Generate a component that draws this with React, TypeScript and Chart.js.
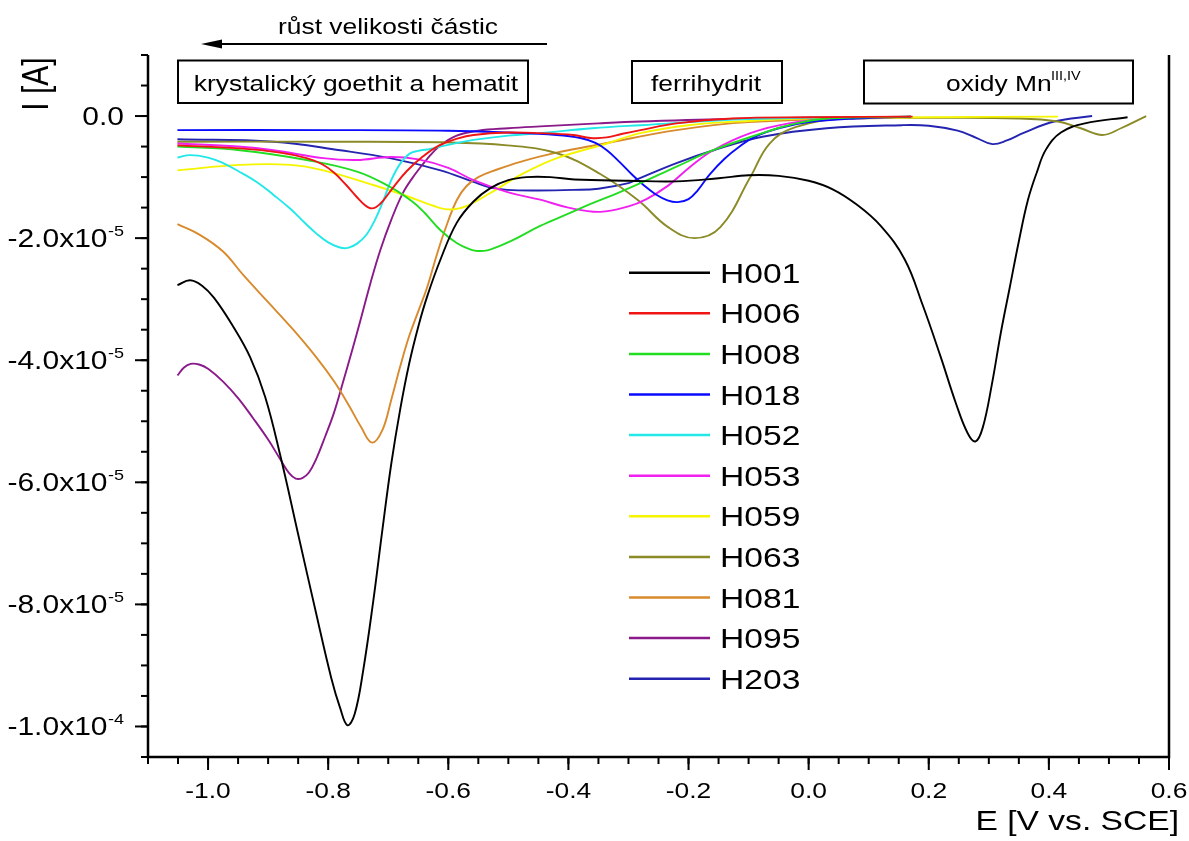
import React, { useEffect, useRef } from "react";
import { Chart, registerables } from "chart.js";

Chart.register(...registerables);

// ---------- data (E in V vs. SCE, I in units of 1e-5 A) ----------
const I_UNIT = 1e-5;

const H001_E = [-1.051, -1.03, -1.01, -0.99, -0.96, -0.93, -0.905, -0.88, -0.85, -0.82, -0.795, -0.78, -0.768, -0.756, -0.742, -0.725, -0.71, -0.695, -0.68, -0.665, -0.65, -0.635, -0.613, -0.586, -0.558, -0.53, -0.5, -0.47, -0.43, -0.39, -0.3, -0.22, -0.15, -0.1, -0.05, 0.0, 0.04, 0.08, 0.12, 0.16, 0.19, 0.22, 0.245, 0.265, 0.278, 0.29, 0.305, 0.32, 0.335, 0.35, 0.365, 0.38, 0.395, 0.42, 0.46, 0.531];
const H001_I = [-2.77, -2.69, -2.78, -2.98, -3.42, -3.95, -4.6, -5.55, -6.85, -8.15, -9.2, -9.7, -9.98, -9.8, -9.1, -7.95, -6.8, -5.7, -4.8, -4.05, -3.45, -2.95, -2.35, -1.75, -1.4, -1.18, -1.05, -1.0, -1.0, -1.04, -1.06, -1.07, -1.02, -0.97, -0.98, -1.06, -1.2, -1.45, -1.8, -2.35, -3.1, -3.95, -4.7, -5.2, -5.33, -5.1, -4.4, -3.55, -2.8, -2.05, -1.38, -0.92, -0.55, -0.27, -0.12, -0.02];

const H006_E = [-1.051, -0.947, -0.88, -0.836, -0.81, -0.79, -0.77, -0.752, -0.74, -0.73, -0.72, -0.708, -0.691, -0.669, -0.642, -0.615, -0.585, -0.558, -0.5, -0.447, -0.392, -0.363, -0.336, -0.31, -0.28, -0.22, -0.127, 0.0, 0.173];
const H006_I = [-0.48, -0.53, -0.6, -0.69, -0.79, -0.93, -1.13, -1.33, -1.45, -1.51, -1.49, -1.38, -1.16, -0.9, -0.66, -0.48, -0.37, -0.31, -0.27, -0.28, -0.31, -0.36, -0.35, -0.29, -0.23, -0.12, -0.04, -0.02, -0.01];

const H008_E = [-1.051, -0.947, -0.836, -0.752, -0.697, -0.66, -0.64, -0.613, -0.586, -0.565, -0.552, -0.535, -0.515, -0.49, -0.447, -0.4, -0.363, -0.32, -0.28, -0.22, -0.159, -0.077, -0.033, 0.03, 0.17];
const H008_I = [-0.5, -0.56, -0.72, -0.91, -1.16, -1.4, -1.58, -1.87, -2.08, -2.18, -2.21, -2.2, -2.13, -2.02, -1.8, -1.6, -1.44, -1.27, -1.1, -0.83, -0.56, -0.28, -0.15, -0.04, -0.01];

const H018_E = [-1.051, -0.8, -0.6, -0.5, -0.42, -0.38, -0.355, -0.336, -0.315, -0.295, -0.275, -0.255, -0.235, -0.218, -0.2, -0.185, -0.165, -0.14, -0.115, -0.09, -0.05, 0.0, 0.08, 0.17];
const H018_I = [-0.23, -0.23, -0.24, -0.27, -0.31, -0.36, -0.44, -0.56, -0.75, -0.95, -1.13, -1.28, -1.38, -1.41, -1.36, -1.22, -0.96, -0.7, -0.5, -0.34, -0.2, -0.1, -0.04, -0.01];

const H052_E = [-1.051, -1.03, -1.0, -0.975, -0.95, -0.919, -0.89, -0.863, -0.84, -0.819, -0.8, -0.782, -0.767, -0.752, -0.736, -0.722, -0.708, -0.695, -0.68, -0.665, -0.65, -0.63, -0.613, -0.585, -0.558, -0.5, -0.447, -0.36, -0.28, -0.1, 0.17];
const H052_I = [-0.68, -0.64, -0.68, -0.77, -0.9, -1.08, -1.3, -1.52, -1.74, -1.93, -2.07, -2.15, -2.16, -2.09, -1.94, -1.7, -1.38, -1.05, -0.78, -0.62, -0.57, -0.54, -0.5, -0.44, -0.39, -0.32, -0.28, -0.2, -0.15, -0.05, -0.01];

const H053_E = [-1.051, -0.95, -0.891, -0.808, -0.752, -0.697, -0.65, -0.6, -0.558, -0.5, -0.447, -0.4, -0.347, -0.3, -0.27, -0.234, -0.197, -0.159, -0.097, -0.033, 0.05, 0.17];
const H053_I = [-0.45, -0.5, -0.56, -0.69, -0.72, -0.67, -0.71, -0.85, -1.05, -1.25, -1.37, -1.5, -1.57, -1.48, -1.36, -1.14, -0.83, -0.56, -0.28, -0.12, -0.04, -0.01];

const H059_E = [-1.051, -0.947, -0.863, -0.808, -0.725, -0.669, -0.625, -0.597, -0.569, -0.53, -0.475, -0.419, -0.336, -0.28, -0.2, -0.1, 0.0, 0.2, 0.415];
const H059_I = [-0.89, -0.8, -0.8, -0.89, -1.13, -1.31, -1.47, -1.53, -1.47, -1.26, -0.94, -0.69, -0.45, -0.28, -0.15, -0.08, -0.04, -0.02, -0.01];

const H063_E = [-1.051, -0.8, -0.613, -0.502, -0.419, -0.347, -0.284, -0.234, -0.19, -0.147, -0.097, -0.065, -0.022, 0.06, 0.2, 0.35, 0.415, 0.453, 0.489, 0.52, 0.562];
const H063_I = [-0.42, -0.42, -0.43, -0.48, -0.61, -0.95, -1.38, -1.82, -2.0, -1.82, -1.0, -0.45, -0.18, -0.04, -0.03, -0.04, -0.09, -0.2, -0.31, -0.2, 0.0];

const H081_E = [-1.051, -1.013, -0.975, -0.94, -0.9, -0.86, -0.82, -0.79, -0.765, -0.745, -0.727, -0.71, -0.695, -0.68, -0.665, -0.65, -0.635, -0.62, -0.605, -0.586, -0.57, -0.55, -0.52, -0.48, -0.42, -0.34, -0.22, -0.1, 0.17];
const H081_I = [-1.77, -1.95, -2.22, -2.62, -3.05, -3.48, -3.95, -4.35, -4.75, -5.1, -5.35, -5.15, -4.65, -4.1, -3.6, -3.2, -2.8, -2.3, -1.85, -1.38, -1.15, -1.0, -0.88, -0.75, -0.6, -0.45, -0.23, -0.1, -0.02];

const H095_E = [-1.051, -1.04, -1.029, -1.015, -1.0, -0.975, -0.95, -0.925, -0.9, -0.88, -0.865, -0.854, -0.843, -0.832, -0.82, -0.805, -0.79, -0.775, -0.759, -0.745, -0.73, -0.713, -0.695, -0.675, -0.655, -0.635, -0.613, -0.586, -0.55, -0.5, -0.447, -0.35, -0.28, -0.1, 0.17];
const H095_I = [-4.25, -4.12, -4.06, -4.07, -4.14, -4.35, -4.62, -4.95, -5.3, -5.62, -5.85, -5.94, -5.93, -5.84, -5.62, -5.25, -4.85, -4.35, -3.8, -3.3, -2.75, -2.19, -1.7, -1.25, -0.95, -0.7, -0.48, -0.32, -0.24, -0.2, -0.17, -0.12, -0.09, -0.04, -0.01];

const H203_E = [-1.051, -0.891, -0.78, -0.697, -0.613, -0.558, -0.53, -0.502, -0.45, -0.392, -0.35, -0.3, -0.284, -0.22, -0.158, -0.077, 0.03, 0.155, 0.2, 0.248, 0.28, 0.306, 0.33, 0.359, 0.409, 0.472];
const H203_I = [-0.38, -0.42, -0.56, -0.69, -0.89, -1.08, -1.17, -1.21, -1.22, -1.21, -1.19, -1.1, -1.03, -0.77, -0.56, -0.34, -0.2, -0.15, -0.16, -0.24, -0.36, -0.46, -0.4, -0.27, -0.09, 0.0];

const SERIES_LABELS = ["H001", "H006", "H008", "H018", "H052", "H053", "H059", "H063", "H081", "H095", "H203"];
const SERIES_E = [H001_E, H006_E, H008_E, H018_E, H052_E, H053_E, H059_E, H063_E, H081_E, H095_E, H203_E];
const SERIES_I = [H001_I, H006_I, H008_I, H018_I, H052_I, H053_I, H059_I, H063_I, H081_I, H095_I, H203_I];
const SERIES_COLORS = ["#000000", "#f01414", "#22dd22", "#0a0aff", "#22e8e8", "#f020f0", "#f5f500", "#8a8a26", "#d88a2c", "#8a1a8a", "#2424b0"];

// ---------- axes ----------
const X_MIN = -1.1;
const X_MAX = 0.6;
const Y_MIN = -1.05e-4;
const Y_MAX = 1e-5;
const X_TICKS = [-1.0, -0.8, -0.6, -0.4, -0.2, 0.0, 0.2, 0.4, 0.6];
const X_TICK_LABELS = ["-1.0", "-0.8", "-0.6", "-0.4", "-0.2", "0.0", "0.2", "0.4", "0.6"];
const X_MINOR_STEP = 0.05;
const Y_TICKS = [0, -2e-5, -4e-5, -6e-5, -8e-5, -1e-4];
const Y_TICK_MANTISSA = ["0.0", "-2.0x10", "-4.0x10", "-6.0x10", "-8.0x10", "-1.0x10"];
const Y_TICK_EXPONENT = ["", "-5", "-5", "-5", "-5", "-4"];
const Y_MINOR_STEP = 5e-6;
const X_TITLE = "E [V vs. SCE]";
const Y_TITLE = "I [A]";
const ARROW_TEXT = "růst velikosti částic";
const BOX1_TEXT = "krystalický goethit a hematit";
const BOX2_TEXT = "ferrihydrit";
const BOX3_TEXT = "oxidy Mn";
const BOX3_SUP = "III,IV";

const SX = 1.2;
const FONT = '"Liberation Sans", Arial, Helvetica, sans-serif';

function drawText(ctx: CanvasRenderingContext2D, s: string, x: number, y: number, size: number, align: CanvasTextAlign, rotate = false) {
  ctx.save();
  ctx.font = `${size}px ${FONT}`;
  ctx.translate(x, y);
  ctx.scale(SX, 1);
  if (rotate) ctx.rotate(-Math.PI / 2);
  ctx.textAlign = align;
  ctx.textBaseline = "alphabetic";
  ctx.fillStyle = "#000";
  ctx.fillText(s, 0, 0);
  ctx.restore();
}

function textWidth(ctx: CanvasRenderingContext2D, s: string, size: number) {
  ctx.save();
  ctx.font = `${size}px ${FONT}`;
  const w = ctx.measureText(s).width * SX;
  ctx.restore();
  return w;
}

function seg(ctx: CanvasRenderingContext2D, x1: number, y1: number, x2: number, y2: number) {
  ctx.beginPath();
  ctx.moveTo(x1, y1);
  ctx.lineTo(x2, y2);
  ctx.stroke();
}

const decorPlugin = {
  id: "decor",
  afterDatasetsDraw(chart: any) {
    const ctx: CanvasRenderingContext2D = chart.ctx;
    const xs = chart.scales.x;
    const ys = chart.scales.y;
    const { left, right, top, bottom } = chart.chartArea;
    ctx.save();
    ctx.strokeStyle = "#000";
    ctx.fillStyle = "#000";
    ctx.lineCap = "butt";

    // frame (left, bottom, right)
    ctx.lineWidth = 2.5;
    ctx.beginPath();
    ctx.moveTo(left, top);
    ctx.lineTo(left, bottom);
    ctx.lineTo(right, bottom);
    ctx.lineTo(right, top);
    ctx.stroke();

    // y ticks
    ctx.lineWidth = 2;
    for (let v = Y_MAX; v >= Y_MIN - 1e-12; v -= Y_MINOR_STEP) {
      const y = ys.getPixelForValue(v);
      seg(ctx, left - 7, y, left, y);
    }
    Y_TICKS.forEach((v, i) => {
      const y = ys.getPixelForValue(v);
      seg(ctx, left - 13, y, left, y);
      const labelRight = left - 24;
      const sup = Y_TICK_EXPONENT[i];
      if (sup) {
        drawText(ctx, sup, labelRight, y - 2, 15, "right");
        const w = textWidth(ctx, sup, 15);
        drawText(ctx, Y_TICK_MANTISSA[i], labelRight - w - 0.5, y + 9, 25, "right");
      } else {
        drawText(ctx, Y_TICK_MANTISSA[i], labelRight, y + 9, 25, "right");
      }
    });

    // x ticks
    for (let v = X_MIN; v <= X_MAX + 1e-9; v += X_MINOR_STEP) {
      const x = xs.getPixelForValue(v);
      seg(ctx, x, bottom, x, bottom + 7);
    }
    X_TICKS.forEach((v, i) => {
      const x = xs.getPixelForValue(v);
      seg(ctx, x, bottom, x, bottom + 13);
      drawText(ctx, X_TICK_LABELS[i], x, bottom + 41, 22, "center");
    });

    // axis titles
    drawText(ctx, X_TITLE, 1179, 830, 28, "right");
    drawText(ctx, Y_TITLE, 48, 84, 30, "center", true);

    // arrow and caption
    ctx.lineWidth = 2;
    seg(ctx, 547, 44, 215, 44);
    ctx.beginPath();
    ctx.moveTo(201, 44);
    ctx.lineTo(222, 39.5);
    ctx.lineTo(222, 48.5);
    ctx.closePath();
    ctx.fill();
    drawText(ctx, ARROW_TEXT, 388, 34, 22, "center");

    // boxes
    ctx.lineWidth = 2;
    ctx.strokeRect(178, 60.5, 350, 42.5);
    ctx.strokeRect(632, 61, 150, 42);
    ctx.strokeRect(864, 60.5, 269, 43);
    drawText(ctx, BOX1_TEXT, 356, 90.5, 22, "center");
    drawText(ctx, BOX2_TEXT, 706, 91, 22, "center");
    drawText(ctx, BOX3_TEXT, 946, 91, 22, "left");
    drawText(ctx, BOX3_SUP, 1051, 80, 12, "left");

    // legend
    chart.data.datasets.forEach((ds: any, i: number) => {
      const yRow = 272.7 + i * 40.6;
      ctx.strokeStyle = ds.borderColor;
      ctx.lineWidth = 2.5;
      seg(ctx, 629, yRow, 710, yRow);
      drawText(ctx, ds.label, 720, yRow + 10, 28, "left");
    });

    ctx.restore();
  },
};

export default function App() {
  const canvasRef = useRef<HTMLCanvasElement | null>(null);

  useEffect(() => {
    document.body.style.margin = "0";
    const canvas = canvasRef.current;
    if (!canvas) return;
    const datasets = SERIES_LABELS.map((label, k) => ({
      label,
      data: SERIES_E[k].map((e, i) => ({ x: e, y: SERIES_I[k][i] * I_UNIT })),
      borderColor: SERIES_COLORS[k],
      backgroundColor: SERIES_COLORS[k],
      borderWidth: 1.9,
      pointRadius: 0,
      fill: false,
      tension: 0.4,
    }));
    const chart = new Chart(canvas, {
      type: "line",
      data: { datasets },
      options: {
        responsive: false,
        animation: false,
        devicePixelRatio: 1,
        layout: { padding: { left: 148, top: 55, right: 20, bottom: 84 } },
        plugins: { legend: { display: false }, tooltip: { enabled: false } },
        scales: {
          x: { type: "linear", min: X_MIN, max: X_MAX, display: false },
          y: { type: "linear", min: Y_MIN, max: Y_MAX, display: false },
        },
      },
      plugins: [decorPlugin],
    });
    return () => chart.destroy();
  }, []);

  return (
    <canvas
      ref={canvasRef}
      width={1189}
      height={841}
      style={{ display: "block", width: "1189px", height: "841px", background: "#fff" }}
    />
  );
}
